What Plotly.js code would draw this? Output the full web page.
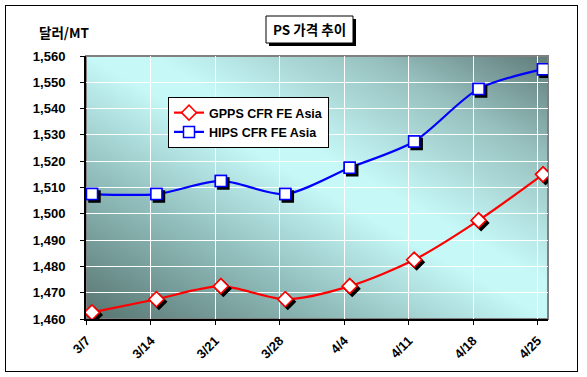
<!DOCTYPE html>
<html>
<head>
<meta charset="utf-8">
<script src="https://cdn.plot.ly/plotly-3.0.1.min.js"></script>
<style>
  html, body { margin: 0; padding: 0; background: #ffffff; }
  #wrap { position: relative; width: 587px; height: 377px; overflow: hidden; background: #ffffff; }
  #bggrad { position: absolute; left: 86px; top: 56px; width: 462px; height: 263px;
    background: linear-gradient(to top right, #56736f 0%, #95c3c1 30%, #c6f8f8 50%, #c6f8f8 57%, #98c2c0 80%, #5f7b79 100%); }
  #frame { position: absolute; left: 5px; top: 5px; width: 573px; height: 367px; border: 1.5px solid #000; box-sizing: border-box; }
  #chart { position: absolute; left: 0; top: 0; width: 587px; height: 377px; }
</style>
</head>
<body>
<div id="wrap">
  <div id="bggrad"></div>
  <div id="frame"></div>
  <div id="chart"></div>
</div>
<script>
// ---- data ----
const categories = ['3/7', '3/14', '3/21', '3/28', '4/4', '4/11', '4/18', '4/25'];
const gppsValues = [1462.5, 1467.5, 1472.5, 1467.5, 1472.5, 1482.5, 1497.5, 1515];
const hipsValues = [1507.5, 1507.5, 1512.5, 1507.5, 1517.5, 1527.5, 1547.5, 1555];
const seriesNames = ['GPPS CFR FE Asia', 'HIPS CFR FE Asia'];
const chartTitle = 'PS 가격 추이';
const yAxisTitle = '달러/MT';

// ---- geometry ----
const W = 587, H = 377;
const M = { l: 86, r: 39, t: 56, b: 58 };
const PW = W - M.l - M.r, PH = H - M.t - M.b;
const xIdx = categories.map((_, i) => i);
const xRange = [-0.093, 7.077];
const yRange = [1460, 1560];
const tickVals = xIdx.map(i => i - 0.085);
const sx = (xRange[1] - xRange[0]) / PW;
const sy = (yRange[1] - yRange[0]) / PH;
const shadowPx = 2.5;
const xRangeShadow = [xRange[0] - shadowPx * sx, xRange[1] - shadowPx * sx];
const yRangeShadow = [yRange[0] + shadowPx * sy, yRange[1] + shadowPx * sy];
const px2x = p => (p - M.l) / PW;
const px2y = p => (M.t + PH - p) / PH;

const boldFont = { family: 'Arial, "Liberation Sans", sans-serif', size: 13, color: '#000', weight: 'bold' };
const legendFont = { family: 'Arial, "Liberation Sans", sans-serif', size: 12.5, color: '#000', weight: 'bold' };
const krFont = { family: '"Noto Sans CJK KR", sans-serif', size: 13.5, color: '#000', weight: 'bold' };

const colors = ['#ff0000', '#0000ff'];
const symbols = ['diamond', 'square'];
const sizes = [11.5, 11];
const series = [gppsValues, hipsValues];

const traces = [];
series.forEach((vals, k) => {
  traces.push({
    type: 'scatter', mode: 'lines+markers', name: seriesNames[k],
    x: xIdx, y: vals, xaxis: 'x', yaxis: 'y',
    line: { color: colors[k], width: 2.2, shape: 'spline', smoothing: 0.8 },
    marker: { symbol: symbols[k], size: sizes[k], color: '#ffffff', line: { color: colors[k], width: 1.5 } },
    hoverinfo: 'skip'
  });
});
series.forEach((vals, k) => {
  traces.push({
    type: 'scatter', mode: 'markers', showlegend: false,
    x: xIdx, y: vals, xaxis: 'x3', yaxis: 'y3',
    marker: { symbol: symbols[k], size: sizes[k], color: '#000000', line: { color: '#000000', width: 1.5 } },
    hoverinfo: 'skip'
  });
});
series.forEach((vals, k) => {
  traces.push({
    type: 'scatter', mode: 'markers', showlegend: false,
    x: xIdx, y: vals, xaxis: 'x4', yaxis: 'y4',
    marker: { symbol: symbols[k], size: sizes[k], color: '#ffffff', line: { color: colors[k], width: 1.5 } },
    hoverinfo: 'skip'
  });
});

const hiddenAx = (range, ov) => ({ range: range, overlaying: ov, visible: false, fixedrange: true });

const layout = {
  width: W, height: H,
  margin: M,
  paper_bgcolor: 'rgba(0,0,0,0)',
  plot_bgcolor: 'rgba(0,0,0,0)',
  showlegend: true,
  xaxis: {
    range: xRange, tickmode: 'array', tickvals: tickVals, ticktext: categories,
    tickangle: -45, tickfont: boldFont, ticklabelstandoff: 3,
    showgrid: true, gridcolor: '#ffffff', gridwidth: 1,
    showline: true, linecolor: '#000', linewidth: 2,
    ticks: 'outside', ticklen: 4, tickcolor: '#000', zeroline: false, fixedrange: true
  },
  yaxis: {
    range: yRange, tick0: 1460, dtick: 10, tickformat: ',d', tickfont: boldFont, ticklabelstandoff: 12,
    showgrid: true, gridcolor: '#ffffff', gridwidth: 1,
    showline: true, linecolor: '#000', linewidth: 2,
    ticks: 'outside', ticklen: 4, tickcolor: '#000', zeroline: false, fixedrange: true
  },
  xaxis2: {
    range: xRange, overlaying: 'x', anchor: 'y2', tickmode: 'array', tickvals: tickVals,
    showticklabels: false, ticks: '', showline: false, zeroline: false,
    showgrid: true, gridcolor: '#7f7f7f', gridwidth: 1, griddash: '4px,3px', fixedrange: true
  },
  yaxis2: {
    range: yRange, overlaying: 'y', anchor: 'x2', tick0: 1460, dtick: 10,
    showticklabels: false, ticks: '', showline: false, zeroline: false,
    showgrid: true, gridcolor: '#7f7f7f', gridwidth: 1, griddash: '4px,3px', fixedrange: true
  },
  xaxis3: Object.assign(hiddenAx(xRangeShadow, 'x'), { anchor: 'y3' }),
  yaxis3: Object.assign(hiddenAx(yRangeShadow, 'y'), { anchor: 'x3' }),
  xaxis4: Object.assign(hiddenAx(xRange, 'x'), { anchor: 'y4' }),
  yaxis4: Object.assign(hiddenAx(yRange, 'y'), { anchor: 'x4' }),
  legend: {
    x: px2x(168), y: px2y(97), xanchor: 'left', yanchor: 'top',
    bgcolor: '#ffffff', bordercolor: '#000', borderwidth: 1,
    font: legendFont, tracegroupgap: 0, traceorder: 'normal'
  },
  shapes: [
    { type: 'rect', xref: 'paper', yref: 'paper', x0: 0, x1: 1, y0: 0, y1: 1,
      line: { color: '#808080', width: 2 }, fillcolor: 'rgba(0,0,0,0)', layer: 'below' },
    { type: 'rect', xref: 'paper', yref: 'paper', x0: px2x(269), x1: px2x(356), y0: px2y(19), y1: px2y(46),
      line: { width: 0 }, fillcolor: '#000', layer: 'below' },
    { type: 'rect', xref: 'paper', yref: 'paper', x0: px2x(266), x1: px2x(353), y0: px2y(16), y1: px2y(43),
      line: { color: '#000', width: 1 }, fillcolor: '#fff', layer: 'below' }
  ],
  annotations: [
    { xref: 'paper', yref: 'paper', x: px2x(309.5), y: px2y(29.5), xanchor: 'center', yanchor: 'middle',
      text: chartTitle, showarrow: false, font: krFont },
    { xref: 'paper', yref: 'paper', x: px2x(37), y: px2y(32), xanchor: 'left', yanchor: 'middle',
      text: yAxisTitle, showarrow: false, font: krFont }
  ]
};

Plotly.newPlot('chart', traces, layout, { staticPlot: true, displayModeBar: false });
</script>
</body>
</html>
